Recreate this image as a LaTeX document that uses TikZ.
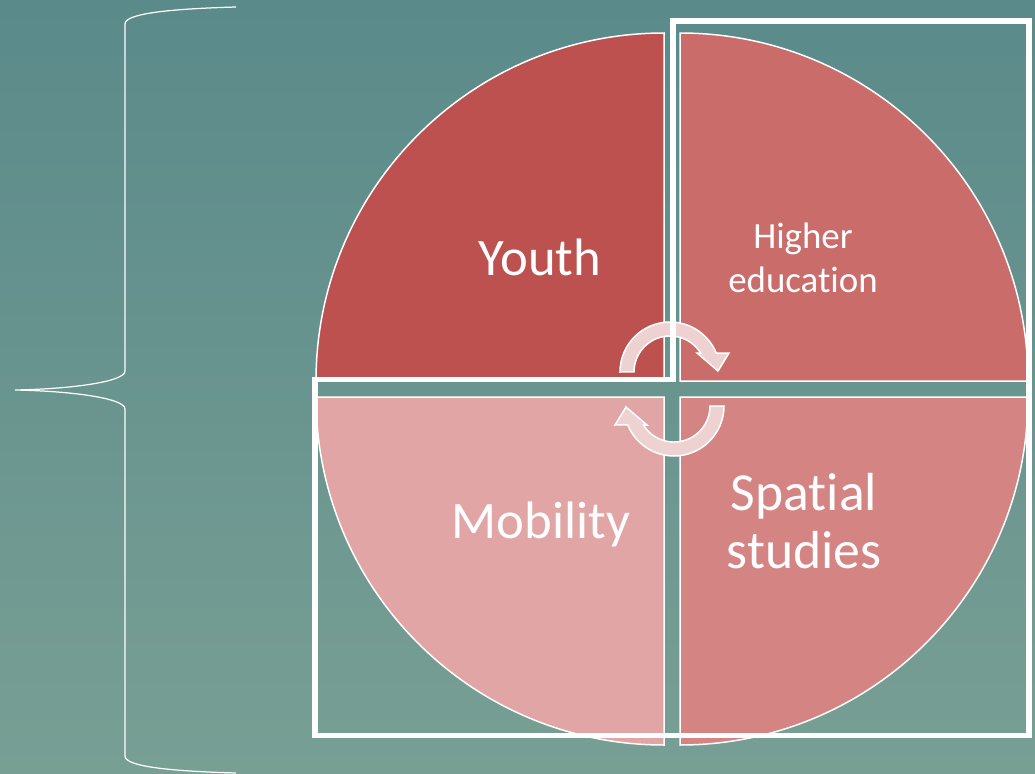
\documentclass[tikz,border=0pt]{standalone}
\usepackage{fontspec}
\setmainfont{Carlito}[Ligatures={NoCommon}]
\definecolor{bgtop}{RGB}{90,138,138}
\definecolor{bgbot}{RGB}{120,159,148}
\definecolor{cyouth}{RGB}{188,81,79}
\definecolor{chigher}{RGB}{202,108,106}
\definecolor{cspatial}{RGB}{212,133,131}
\definecolor{cmob}{RGB}{224,165,164}
\definecolor{arrowpink}{RGB}{238,210,210}
\begin{document}
\begin{tikzpicture}[x=0.02cm,y=-0.02cm,
  quad/.style={draw=white,line width=0.85pt},
  cyc/.style={fill=arrowpink,draw=white,line width=0.85pt},
  lbl/.style={text=white,inner sep=0pt,align=center},
  frameline/.style={draw=white,line width=2.9pt,line join=miter},
  bracel/.style={draw=white,line width=0.7pt}]
\useasboundingbox (0,0) rectangle (1035,774);
\shade[top color=bgtop,bottom color=bgbot] (0,0) rectangle (1035,774);
% brace
\path[bracel] (236,7) .. controls (165,9) and (125,14) .. (125,24) -- (125,371)
  .. controls (125,382) and (70,389) .. (15,390)
  .. controls (70,391) and (125,398) .. (125,409) -- (125,756)
  .. controls (125,766) and (165,771) .. (236,773);
% quadrants
\path[quad,fill=cyouth] (664,381) -- (316,381) arc[start angle=180,end angle=270,radius=348] -- cycle;
\path[quad,fill=chigher] (680,381) -- (680,33) arc[start angle=270,end angle=360,radius=348] -- cycle;
\path[quad,fill=cspatial] (680,397) -- (1028,397) arc[start angle=0,end angle=90,radius=348] -- cycle;
\path[quad,fill=cmob] (664,397) -- (664,745) arc[start angle=90,end angle=180,radius=348] -- cycle;
% cycle arrows
\path[cyc] (620,372) arc[start angle=180,end angle=337.7,radius=50] -- (729,353) -- (718,371) -- (697,353) -- (700.6,353) arc[start angle=328.2,end angle=180,radius=36] -- cycle;
\begin{scope}[rotate around={180:(672,389)}]
\path[cyc] (620,372) arc[start angle=180,end angle=337.7,radius=50] -- (729,353) -- (718,371) -- (697,353) -- (700.6,353) arc[start angle=328.2,end angle=180,radius=36] -- cycle;
\end{scope}
% frame
\path[frameline] (315,379.5) -- (673,379.5) -- (673,21) -- (1029,21) -- (1029,735.5) -- (315,735.5) -- cycle;
% labels
\node[lbl,font=\fontsize{30}{33}\selectfont,anchor=base] (youth) at (540,275) {Youth};
\node[lbl,font=\fontsize{21}{25}\selectfont,anchor=base] (higher) at (803,292) {Higher\\education};
\node[lbl,font=\fontsize{30}{33}\selectfont,anchor=base] (mobility) at (541,538) {Mobility};
\node[lbl,font=\fontsize{30.5}{33}\selectfont,anchor=base] (spatial) at (804,568) {Spatial\\studies};
\end{tikzpicture}
\end{document}
